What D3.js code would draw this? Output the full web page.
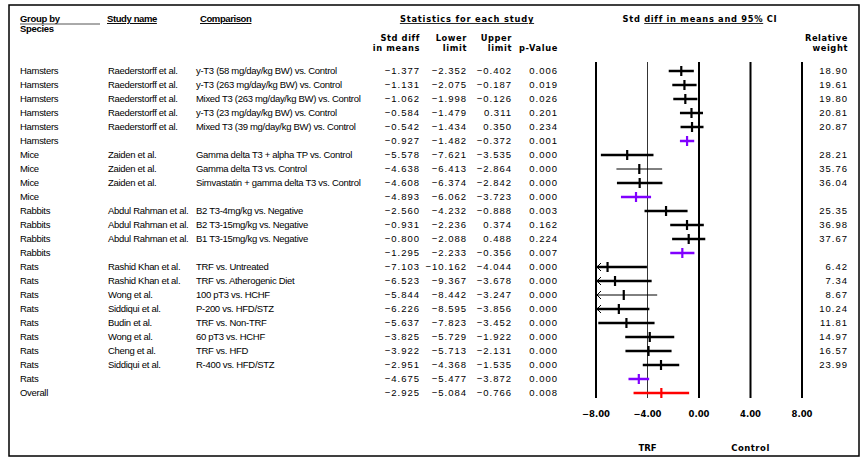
<!DOCTYPE html>
<html>
<head>
<meta charset="utf-8">
<script src="https://cdn.jsdelivr.net/npm/d3@7"></script>
<style>
  body { margin: 0; background: #fff; }
  svg text { fill: #000; }
</style>
</head>
<body>
<div id="chart"></div>
<script>
// ---- data ----
const species = [
  "Hamsters", "Hamsters", "Hamsters", "Hamsters", "Hamsters", "Hamsters",
  "Mice", "Mice", "Mice", "Mice",
  "Rabbits", "Rabbits", "Rabbits", "Rabbits",
  "Rats", "Rats", "Rats", "Rats", "Rats", "Rats", "Rats", "Rats", "Rats",
  "Overall"
];
const studyNames = [
  "Raederstorff et al.", "Raederstorff et al.", "Raederstorff et al.", "Raederstorff et al.", "Raederstorff et al.", "",
  "Zaiden et al.", "Zaiden et al.", "Zaiden et al.", "",
  "Abdul Rahman et al.", "Abdul Rahman et al.", "Abdul Rahman et al.", "",
  "Rashid Khan et al.", "Rashid Khan et al.", "Wong et al.", "Siddiqui et al.", "Budin et al.", "Wong et al.", "Cheng et al.", "Siddiqui et al.", "",
  ""
];
const comparisons = [
  "y-T3 (58 mg/day/kg BW) vs. Control",
  "y-T3 (263 mg/day/kg BW) vs. Control",
  "Mixed T3 (263 mg/day/kg BW) vs. Control",
  "y-T3 (23 mg/day/kg BW) vs. Control",
  "Mixed T3 (39 mg/day/kg BW) vs. Control",
  "",
  "Gamma delta T3 + alpha TP vs. Control",
  "Gamma delta T3 vs. Control",
  "Simvastatin + gamma delta T3 vs. Control",
  "",
  "B2 T3-4mg/kg vs. Negative",
  "B2 T3-15mg/kg vs. Negative",
  "B1 T3-15mg/kg vs. Negative",
  "",
  "TRF vs. Untreated",
  "TRF vs. Atherogenic Diet",
  "100 pT3 vs. HCHF",
  "P-200 vs. HFD/STZ",
  "TRF vs. Non-TRF",
  "60 pT3 vs. HCHF",
  "TRF vs. HFD",
  "R-400 vs. HFD/STZ",
  "",
  ""
];
const stdDiff = [-1.377, -1.131, -1.062, -0.584, -0.542, -0.927,
  -5.578, -4.638, -4.608, -4.893,
  -2.560, -0.931, -0.800, -1.295,
  -7.103, -6.523, -5.844, -6.226, -5.637, -3.825, -3.922, -2.951, -4.675,
  -2.925];
const lowerLimit = [-2.352, -2.075, -1.998, -1.479, -1.434, -1.482,
  -7.621, -6.413, -6.374, -6.062,
  -4.232, -2.236, -2.088, -2.233,
  -10.162, -9.367, -8.442, -8.595, -7.823, -5.729, -5.713, -4.368, -5.477,
  -5.084];
const upperLimit = [-0.402, -0.187, -0.126, 0.311, 0.350, -0.372,
  -3.535, -2.864, -2.842, -3.723,
  -0.888, 0.374, 0.488, -0.356,
  -4.044, -3.678, -3.247, -3.856, -3.452, -1.922, -2.131, -1.535, -3.872,
  -0.766];
const pValues = [0.006, 0.019, 0.026, 0.201, 0.234, 0.001,
  0.000, 0.000, 0.000, 0.000,
  0.003, 0.162, 0.224, 0.007,
  0.000, 0.000, 0.000, 0.000, 0.000, 0.000, 0.000, 0.000, 0.000,
  0.008];
const relWeight = [18.90, 19.61, 19.80, 20.81, 20.87, null,
  28.21, 35.76, 36.04, null,
  25.35, 36.98, 37.67, null,
  6.42, 7.34, 8.67, 10.24, 11.81, 14.97, 16.57, 23.99, null,
  null];
// row kind: study, subgroup summary, overall
const rowKind = ["s", "s", "s", "s", "s", "g",
  "s", "s", "s", "g",
  "s", "s", "s", "g",
  "s", "s", "s", "s", "s", "s", "s", "s", "g",
  "o"];
const axisTicks = [-8, -4, 0, 4, 8];

// ---- layout ----
const width = 863;
const height = 458;
const rowTop = 71;
const rowStep = 14;
const plotTop = 62;
const plotBottom = 398;

const narrowFont = "'Liberation Sans Narrow', 'Liberation Sans', Arial, sans-serif";
const numFont = "'Liberation Sans', Arial, sans-serif";
const boldFont = "'DejaVu Sans', Verdana, sans-serif";

const rows = species.map((d, i) => ({
  species: d,
  study: studyNames[i],
  comparison: comparisons[i],
  est: stdDiff[i],
  lo: lowerLimit[i],
  hi: upperLimit[i],
  p: pValues[i],
  w: relWeight[i],
  kind: rowKind[i]
}));

const y = d3.scalePoint()
  .domain(d3.range(rows.length))
  .range([rowTop, rowTop + rowStep * (rows.length - 1)]);

const x = d3.scaleLinear().domain([-8, 8]).range([596, 802]);

const svg = d3.select("#chart").append("svg")
  .attr("width", width)
  .attr("height", height)
  .attr("viewBox", [0, 0, width, height]);

// frame
svg.append("rect")
  .attr("x", 9).attr("y", 5)
  .attr("width", 850).attr("height", 451)
  .attr("fill", "none")
  .attr("stroke", "#000")
  .attr("stroke-width", 1.5);

// ---- headers ----
const header = svg.append("g")
  .attr("font-family", boldFont)
  .attr("font-weight", "bold")
  .attr("font-size", 8.3);

header.append("text").attr("x", 20).attr("y", 22)
  .attr("font-family", narrowFont).attr("font-size", 9.5).attr("letter-spacing", -0.3)
  .text("Group by");
header.append("line")
  .attr("x1", 20).attr("x2", 100).attr("y1", 24).attr("y2", 24)
  .attr("stroke", "#555").attr("stroke-width", 1);
header.append("text").attr("x", 20).attr("y", 32)
  .attr("font-family", narrowFont).attr("font-size", 9.5).attr("letter-spacing", -0.3)
  .text("Species");
header.append("text").attr("x", 107).attr("y", 22)
  .attr("font-family", narrowFont).attr("font-size", 9.5).attr("letter-spacing", -0.4)
  .style("text-decoration", "underline")
  .text("Study name");
header.append("text").attr("x", 200).attr("y", 22)
  .attr("font-family", narrowFont).attr("font-size", 9.5).attr("letter-spacing", -0.4)
  .style("text-decoration", "underline")
  .text("Comparison");

header.append("text").attr("x", 467).attr("y", 22)
  .attr("text-anchor", "middle").attr("letter-spacing", 0.8)
  .style("text-decoration", "underline")
  .text("Statistics for each study");

const statHeads = [
  { x: 420, l1: "Std diff", l2: "in means" },
  { x: 467, l1: "Lower", l2: "limit" },
  { x: 512, l1: "Upper", l2: "limit" },
  { x: 558, l1: "", l2: "p-Value" },
  { x: 848, l1: "Relative", l2: "weight" }
];
statHeads.forEach((h) => {
  header.append("text").attr("x", h.x).attr("y", 41)
    .attr("text-anchor", "end").attr("letter-spacing", 0.6).text(h.l1);
  header.append("text").attr("x", h.x).attr("y", 51)
    .attr("text-anchor", "end").attr("letter-spacing", 0.6).text(h.l2);
});

const ciTitle = header.append("text").attr("x", 700).attr("y", 22)
  .attr("text-anchor", "middle").attr("letter-spacing", 0.7);
ciTitle.append("tspan").text("Std ");
ciTitle.append("tspan").style("text-decoration", "underline").text("diff in means and 95%");
ciTitle.append("tspan").text(" CI");

// ---- text columns ----
const body = svg.append("g");

const rowG = body.selectAll("g.row")
  .data(rows)
  .join("g")
  .attr("class", "row")
  .attr("transform", (d, i) => `translate(0,${y(i)})`);

rowG.append("text")
  .attr("x", 20).attr("dy", "0.35em")
  .attr("font-family", narrowFont).attr("font-size", 9.5).attr("letter-spacing", -0.3)
  .text((d) => d.species);
rowG.append("text")
  .attr("x", 108).attr("dy", "0.35em")
  .attr("font-family", narrowFont).attr("font-size", 9.5).attr("letter-spacing", -0.3)
  .text((d) => d.study);
rowG.append("text")
  .attr("x", 196).attr("dy", "0.35em")
  .attr("font-family", narrowFont).attr("font-size", 9.5).attr("letter-spacing", -0.3)
  .text((d) => d.comparison);

const f3 = d3.format(".3f");
const numCols = [
  { x: 420, v: (d) => f3(d.est) },
  { x: 467, v: (d) => f3(d.lo) },
  { x: 512, v: (d) => f3(d.hi) },
  { x: 558, v: (d) => f3(d.p) },
  { x: 848, v: (d) => (d.w == null ? "" : d3.format(".2f")(d.w)) }
];
numCols.forEach((c) => {
  rowG.append("text")
    .attr("x", c.x).attr("dy", "0.35em")
    .attr("text-anchor", "end")
    .attr("font-family", numFont).attr("font-size", 9.5)
    .attr("letter-spacing", 1)
    .attr("fill", (d) => (c.x === 848 ? "#444" : "#222"))
    .text(c.v);
});

// ---- forest plot ----
const plot = svg.append("g");

plot.selectAll("line.ref")
  .data(axisTicks)
  .join("line")
  .attr("class", "ref")
  .attr("x1", (d) => x(d)).attr("x2", (d) => x(d))
  .attr("y1", plotTop).attr("y2", plotBottom)
  .attr("stroke", "#000")
  .attr("stroke-width", (d) => (d === -4 ? 0.8 : 2));

plot.selectAll("text.tick")
  .data(axisTicks)
  .join("text")
  .attr("class", "tick")
  .attr("x", (d) => x(d)).attr("y", 417)
  .attr("text-anchor", "middle")
  .attr("font-family", boldFont).attr("font-weight", "bold").attr("font-size", 8.5)
  .text((d) => d3.format(".2f")(d));

plot.append("text").attr("x", x(-4)).attr("y", 451)
  .attr("text-anchor", "middle")
  .attr("font-family", boldFont).attr("font-weight", "bold").attr("font-size", 8.5)
  .text("TRF");
plot.append("text").attr("x", x(4)).attr("y", 451)
  .attr("text-anchor", "middle")
  .attr("font-family", boldFont).attr("font-weight", "bold").attr("font-size", 8.5)
  .attr("letter-spacing", 0.5)
  .text("Control");

const thinRows = new Set([7, 16]);
const colorFor = (d) => (d.kind === "g" ? "#8000ff" : d.kind === "o" ? "#ff0000" : "#000");
const xMin = x.domain()[0];

const marks = plot.selectAll("g.mark")
  .data(rows)
  .join("g")
  .attr("class", "mark")
  .attr("transform", (d, i) => `translate(0,${y(i)})`);

marks.append("line")
  .attr("x1", (d) => x(Math.max(d.lo, xMin)))
  .attr("x2", (d) => x(d.hi))
  .attr("stroke", colorFor)
  .attr("stroke-width", (d, i) => (thinRows.has(i) ? 1 : 2.5));

marks.append("line")
  .attr("x1", (d) => x(d.est)).attr("x2", (d) => x(d.est))
  .attr("y1", -5).attr("y2", 5)
  .attr("stroke", colorFor)
  .attr("stroke-width", 2.2);

// arrows for limits cut off at -8
marks.filter((d) => d.lo < xMin)
  .append("path")
  .attr("d", (d) => `M${x(xMin) + 5},-4 L${x(xMin) + 1},0 L${x(xMin) + 5},4`)
  .attr("fill", "none")
  .attr("stroke", "#000")
  .attr("stroke-width", 1);
</script>
</body>
</html>
